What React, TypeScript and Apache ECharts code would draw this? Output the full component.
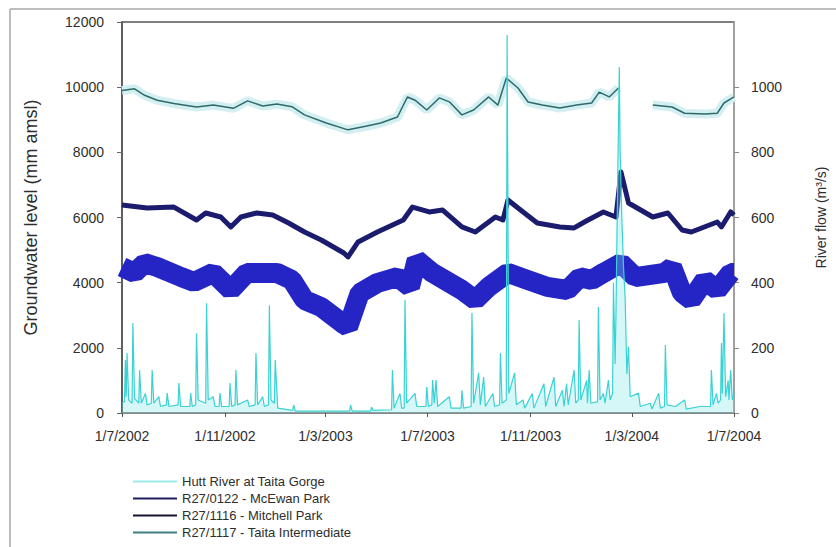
import React, { useEffect, useRef } from "react";
import * as echarts from "echarts";

const xTickDates = ["2002-07-01", "2002-11-01", "2003-03-01", "2003-07-01", "2003-11-01", "2004-03-01", "2004-07-01"];
const xTickLabels = ["1/7/2002", "1/11/2002", "1/3/2003", "1/7/2003", "1/11/2003", "1/3/2004", "1/7/2004"];

const seriesNames = [
  "Hutt River at Taita Gorge",
  "R27/0122 - McEwan Park",
  "R27/1116 - Mitchell Park",
  "R27/1117 - Taita Intermediate",
];

// Groundwater level (mm) - R27/1117 Taita Intermediate
const taitaIntermediate: [string, number | null][] = [
  ["2002-07-01", 9900], ["2002-07-16", 9950], ["2002-07-28", 9750], ["2002-08-12", 9600], ["2002-09-01", 9500],
  ["2002-09-28", 9390], ["2002-10-18", 9450], ["2002-11-11", 9350], ["2002-11-28", 9580], ["2002-12-16", 9420],
  ["2003-01-02", 9480], ["2003-01-20", 9400], ["2003-02-04", 9150], ["2003-03-02", 8900], ["2003-03-28", 8690],
  ["2003-04-18", 8800], ["2003-05-06", 8900], ["2003-05-26", 9085], ["2003-06-07", 9700], ["2003-06-16", 9600],
  ["2003-06-30", 9300], ["2003-07-15", 9670], ["2003-07-27", 9550], ["2003-08-11", 9150], ["2003-08-25", 9300],
  ["2003-09-12", 9700], ["2003-09-23", 9450], ["2003-10-03", 10280], ["2003-10-17", 9975], ["2003-10-29", 9545],
  ["2003-11-15", 9450], ["2003-12-06", 9360], ["2003-12-26", 9450], ["2004-01-13", 9514], ["2004-01-22", 9850],
  ["2004-02-03", 9700], ["2004-02-14", 9975], ["2004-02-28", null], ["2004-03-26", 9450], ["2004-04-18", 9390],
  ["2004-05-03", 9200], ["2004-05-27", 9180], ["2004-06-11", 9200], ["2004-06-19", 9514], ["2004-07-01", 9700],
];

// Groundwater level (mm) - R27/1116 Mitchell Park
const mitchellPark: [string, number][] = [
  ["2002-07-01", 6383], ["2002-07-31", 6290], ["2002-09-01", 6320], ["2002-09-28", 5923], ["2002-10-09", 6138],
  ["2002-10-27", 6015], ["2002-11-08", 5710], ["2002-11-20", 6015], ["2002-12-09", 6138], ["2002-12-28", 6077],
  ["2003-01-16", 5830], ["2003-02-04", 5555], ["2003-02-24", 5310], ["2003-03-23", 4910], ["2003-03-28", 4790],
  ["2003-04-09", 5250], ["2003-05-02", 5555], ["2003-06-02", 5923], ["2003-06-13", 6320], ["2003-07-03", 6170],
  ["2003-07-19", 6230], ["2003-08-11", 5710], ["2003-08-27", 5555], ["2003-09-20", 6015], ["2003-09-29", 5923],
  ["2003-10-05", 6537], ["2003-10-17", 6290], ["2003-11-09", 5830], ["2003-12-06", 5710], ["2003-12-23", 5680],
  ["2004-01-07", 5900], ["2004-01-27", 6170], ["2004-02-11", 6015], ["2004-02-17", 7396], ["2004-02-26", 6445],
  ["2004-03-26", 6015], ["2004-04-13", 6138], ["2004-04-30", 5616], ["2004-05-11", 5555], ["2004-06-11", 5862],
  ["2004-06-16", 5710], ["2004-06-27", 6170], ["2004-07-01", 6077],
];

// Groundwater level (mm) - R27/0122 McEwan Park
const mcEwanPark: [string, number][] = [
  ["2002-07-01", 4480], ["2002-07-16", 4300], ["2002-07-28", 4600], ["2002-08-12", 4480], ["2002-09-10", 4170],
  ["2002-09-25", 4020], ["2002-10-18", 4300], ["2002-11-08", 3775], ["2002-11-27", 4300], ["2003-01-02", 4300],
  ["2003-01-20", 4080], ["2003-02-04", 3470], ["2003-02-24", 3250], ["2003-03-21", 2760], ["2003-03-28", 2640],
  ["2003-04-11", 3680], ["2003-05-02", 3990], ["2003-05-26", 4170], ["2003-06-10", 3870], ["2003-06-18", 4700],
  ["2003-07-07", 4300], ["2003-08-11", 3775], ["2003-08-27", 3470], ["2003-09-12", 3870], ["2003-10-05", 4300],
  ["2003-10-29", 4080], ["2003-11-21", 3870], ["2003-12-15", 3775], ["2003-12-30", 4170], ["2004-01-13", 4080],
  ["2004-01-27", 4300], ["2004-02-17", 4600], ["2004-03-05", 4170], ["2004-04-09", 4300], ["2004-04-18", 4480],
  ["2004-04-30", 3680], ["2004-05-11", 3470], ["2004-05-27", 4080], ["2004-06-11", 3775], ["2004-06-27", 4300],
  ["2004-07-01", 4300],
];

// River flow (m3/s) - Hutt River at Taita Gorge
const huttRiverFlow: [string, number][] = [
  ["2002-07-01", 30], ["2002-07-04", 35], ["2002-07-05", 163], ["2002-07-06", 50], ["2002-07-07", 184], ["2002-07-09", 40],
  ["2002-07-13", 30], ["2002-07-14", 276], ["2002-07-16", 45], ["2002-07-21", 30], ["2002-07-22", 132], ["2002-07-24", 30],
  ["2002-07-29", 60], ["2002-07-31", 25], ["2002-08-05", 30], ["2002-08-06", 132], ["2002-08-08", 30], ["2002-08-14", 50],
  ["2002-08-16", 20], ["2002-08-23", 25], ["2002-08-24", 61], ["2002-08-26", 20], ["2002-09-06", 25], ["2002-09-07", 92],
  ["2002-09-09", 20], ["2002-09-20", 20], ["2002-09-21", 61], ["2002-09-23", 20], ["2002-09-27", 25], ["2002-09-28", 245],
  ["2002-09-30", 40], ["2002-10-09", 30], ["2002-10-10", 337], ["2002-10-12", 40], ["2002-10-18", 50], ["2002-10-20", 20],
  ["2002-10-25", 20], ["2002-10-26", 61], ["2002-10-28", 20], ["2002-11-06", 20], ["2002-11-07", 92], ["2002-11-09", 20],
  ["2002-11-13", 25], ["2002-11-14", 132], ["2002-11-16", 25], ["2002-11-28", 40], ["2002-11-30", 20], ["2002-12-07", 25],
  ["2002-12-08", 184], ["2002-12-10", 25], ["2002-12-16", 50], ["2002-12-18", 20], ["2002-12-23", 25], ["2002-12-24", 331],
  ["2002-12-26", 40], ["2002-12-30", 30], ["2002-12-31", 163], ["2003-01-03", 15], ["2003-01-21", 8], ["2003-01-22", 25],
  ["2003-01-24", 6], ["2003-03-30", 6], ["2003-03-31", 25], ["2003-04-02", 6], ["2003-04-24", 6], ["2003-04-25", 18],
  ["2003-04-27", 8], ["2003-05-19", 10], ["2003-05-20", 132], ["2003-05-22", 15], ["2003-05-29", 60], ["2003-05-31", 15],
  ["2003-06-03", 15], ["2003-06-04", 347], ["2003-06-06", 30], ["2003-06-16", 60], ["2003-06-18", 20], ["2003-06-29", 20],
  ["2003-06-30", 80], ["2003-07-02", 20], ["2003-07-06", 25], ["2003-07-07", 101], ["2003-07-09", 30], ["2003-07-11", 101],
  ["2003-07-13", 20], ["2003-07-27", 50], ["2003-07-29", 15], ["2003-08-10", 15], ["2003-08-11", 70], ["2003-08-13", 15],
  ["2003-08-22", 20], ["2003-08-23", 307], ["2003-08-25", 30], ["2003-08-31", 123], ["2003-09-02", 25], ["2003-09-06", 110],
  ["2003-09-08", 20], ["2003-09-17", 60], ["2003-09-19", 20], ["2003-09-25", 25], ["2003-09-26", 184], ["2003-09-28", 30],
  ["2003-10-03", 40], ["2003-10-04", 1160], ["2003-10-06", 60], ["2003-10-13", 123], ["2003-10-15", 25], ["2003-10-23", 40],
  ["2003-10-25", 15], ["2003-11-03", 60], ["2003-11-05", 15], ["2003-11-17", 90], ["2003-11-19", 20], ["2003-11-29", 110],
  ["2003-12-01", 20], ["2003-12-09", 70], ["2003-12-11", 20], ["2003-12-14", 90], ["2003-12-16", 25], ["2003-12-23", 132],
  ["2003-12-25", 30], ["2003-12-28", 40], ["2003-12-29", 285], ["2003-12-31", 40], ["2004-01-07", 100], ["2004-01-08", 30],
  ["2004-01-10", 132], ["2004-01-12", 30], ["2004-01-20", 35], ["2004-01-21", 325], ["2004-01-23", 40], ["2004-01-27", 60],
  ["2004-01-29", 30], ["2004-02-02", 101], ["2004-02-04", 40], ["2004-02-07", 60], ["2004-02-08", 400], ["2004-02-10", 150],
  ["2004-02-11", 300], ["2004-02-13", 700], ["2004-02-15", 1062], ["2004-02-16", 800], ["2004-02-18", 600], ["2004-02-20", 450],
  ["2004-02-22", 350], ["2004-02-24", 120], ["2004-02-26", 203], ["2004-02-28", 50], ["2004-03-09", 61], ["2004-03-11", 20],
  ["2004-03-23", 30], ["2004-03-25", 12], ["2004-04-02", 61], ["2004-04-04", 15], ["2004-04-09", 20], ["2004-04-10", 209],
  ["2004-04-12", 25], ["2004-04-22", 20], ["2004-05-03", 40], ["2004-05-05", 12], ["2004-05-21", 20], ["2004-06-03", 20],
  ["2004-06-04", 132], ["2004-06-06", 25], ["2004-06-10", 60], ["2004-06-12", 30], ["2004-06-15", 40], ["2004-06-16", 215],
  ["2004-06-17", 60], ["2004-06-19", 307], ["2004-06-21", 50], ["2004-06-24", 100], ["2004-06-25", 40], ["2004-06-27", 132],
  ["2004-06-29", 40], ["2004-07-01", 60],
];

const toTs = (s: string) => {
  const [y, m, d] = s.split("-").map(Number);
  return Date.UTC(y, m - 1, d);
};
const conv = (arr: [string, number | null][]) => arr.map(([d, v]) => [toTs(d), v === null ? "-" : v]);

const FONT = "'Liberation Sans', Arial, sans-serif";
const TEXT = "#2e2e2e";

export default function App() {
  const ref = useRef<HTMLDivElement>(null);
  useEffect(() => {
    if (!ref.current) return;
    const chart = echarts.init(ref.current, undefined, { renderer: "svg" });
    const ticks = xTickDates.map(toTs);
    const taita = conv(taitaIntermediate);
    chart.setOption({
      animation: false,
      backgroundColor: "#ffffff",
      textStyle: { fontFamily: FONT },
      grid: { left: 122, right: 91, top: 22, bottom: 134, show: true, borderColor: "#555", borderWidth: 1.5 },
      graphic: [
        { type: "line", shape: { x1: 10, y1: 9, x2: 836, y2: 9 }, style: { stroke: "#bdbdbd", lineWidth: 2 } },
        { type: "line", shape: { x1: 10, y1: 9, x2: 10, y2: 547 }, style: { stroke: "#bdbdbd", lineWidth: 2 } },
      ],
      legend: {
        orient: "vertical",
        left: 128,
        top: 470,
        height: 80,
        itemGap: 4,
        itemWidth: 44,
        itemHeight: 2,
        icon: "rect",
        textStyle: { fontFamily: FONT, fontSize: 13, color: TEXT },
        data: [
          { name: seriesNames[0], itemStyle: { color: "#9ee9ea" } },
          { name: seriesNames[1], itemStyle: { color: "#1d1d5a" } },
          { name: seriesNames[2], itemStyle: { color: "#151530" } },
          { name: seriesNames[3], itemStyle: { color: "#3e7f80" } },
        ],
      },
      xAxis: {
        type: "value",
        min: ticks[0],
        max: ticks[ticks.length - 1],
        axisLine: { lineStyle: { color: "#888", width: 1.5 } },
        axisTick: { customValues: ticks, length: 4, lineStyle: { color: "#555" } },
        axisLabel: {
          customValues: ticks,
          color: TEXT,
          fontSize: 14,
          fontFamily: FONT,
          margin: 16,
          hideOverlap: false,
          formatter: (v: number) => {
            const i = ticks.findIndex((t) => Math.abs(t - v) < 43200000);
            return i >= 0 ? xTickLabels[i] : "";
          },
        },
        splitLine: { show: false },
      },
      yAxis: [
        {
          type: "value",
          min: 0,
          max: 12000,
          interval: 2000,
          name: "Groundwater level (mm amsl)",
          nameLocation: "middle",
          nameRotate: 90,
          nameGap: 82,
          nameTextStyle: { fontFamily: FONT, fontSize: 18, color: TEXT },
          axisLine: { show: true, lineStyle: { color: "#555", width: 1.5 } },
          axisTick: { show: true, length: 5, lineStyle: { color: "#666" } },
          axisLabel: { color: TEXT, fontSize: 14, fontFamily: FONT, margin: 18, formatter: (v: number) => String(v) },
          splitLine: { show: false },
        },
        {
          type: "value",
          min: 0,
          max: 1200,
          interval: 200,
          position: "right",
          name: "River flow (m\u00b3/s)",
          nameLocation: "middle",
          nameRotate: 90,
          nameGap: 80,
          nameTextStyle: { fontFamily: FONT, fontSize: 14, color: TEXT },
          axisLine: { show: true, lineStyle: { color: "#aaa", width: 1.5 } },
          axisTick: { show: true, length: 5, lineStyle: { color: "#888" } },
          axisLabel: {
            color: TEXT,
            fontSize: 14,
            fontFamily: FONT,
            margin: 17,
            showMaxLabel: false,
            formatter: (v: number) => (v >= 1200 ? "" : String(v)),
          },
          splitLine: { show: false },
        },
      ],
      series: [
        {
          name: "halo",
          type: "line",
          data: taita,
          yAxisIndex: 0,
          symbol: "none",
          connectNulls: false,
          lineStyle: { color: "#d3eff1", width: 9 },
          itemStyle: { color: "#d3eff1" },
          silent: true,
          z: 2,
        },
        {
          name: seriesNames[3],
          type: "line",
          data: taita,
          yAxisIndex: 0,
          symbol: "none",
          connectNulls: false,
          lineStyle: { color: "#2f6a6b", width: 1.5 },
          itemStyle: { color: "#3e7f80" },
          z: 3,
        },
        {
          name: seriesNames[1],
          type: "line",
          data: conv(mcEwanPark),
          yAxisIndex: 0,
          symbol: "none",
          lineStyle: { color: "#2525c6", width: 20, join: "bevel", cap: "butt" },
          itemStyle: { color: "#1d1d5a" },
          z: 3,
        },
        {
          name: seriesNames[2],
          type: "line",
          data: conv(mitchellPark),
          yAxisIndex: 0,
          symbol: "none",
          lineStyle: { color: "#1c1c6e", width: 5, join: "round" },
          itemStyle: { color: "#151530" },
          z: 3,
        },
        {
          name: seriesNames[0],
          type: "line",
          data: conv(huttRiverFlow),
          yAxisIndex: 1,
          symbol: "none",
          lineStyle: { color: "#3ad2d4", width: 1.2 },
          areaStyle: { color: "rgba(120,228,230,0.45)" },
          itemStyle: { color: "#9ee9ea" },
          z: 4,
        },
      ],
    });
    return () => chart.dispose();
  }, []);
  return <div ref={ref} style={{ position: "fixed", left: 0, top: 0, width: 836, height: 547 }} />;
}
